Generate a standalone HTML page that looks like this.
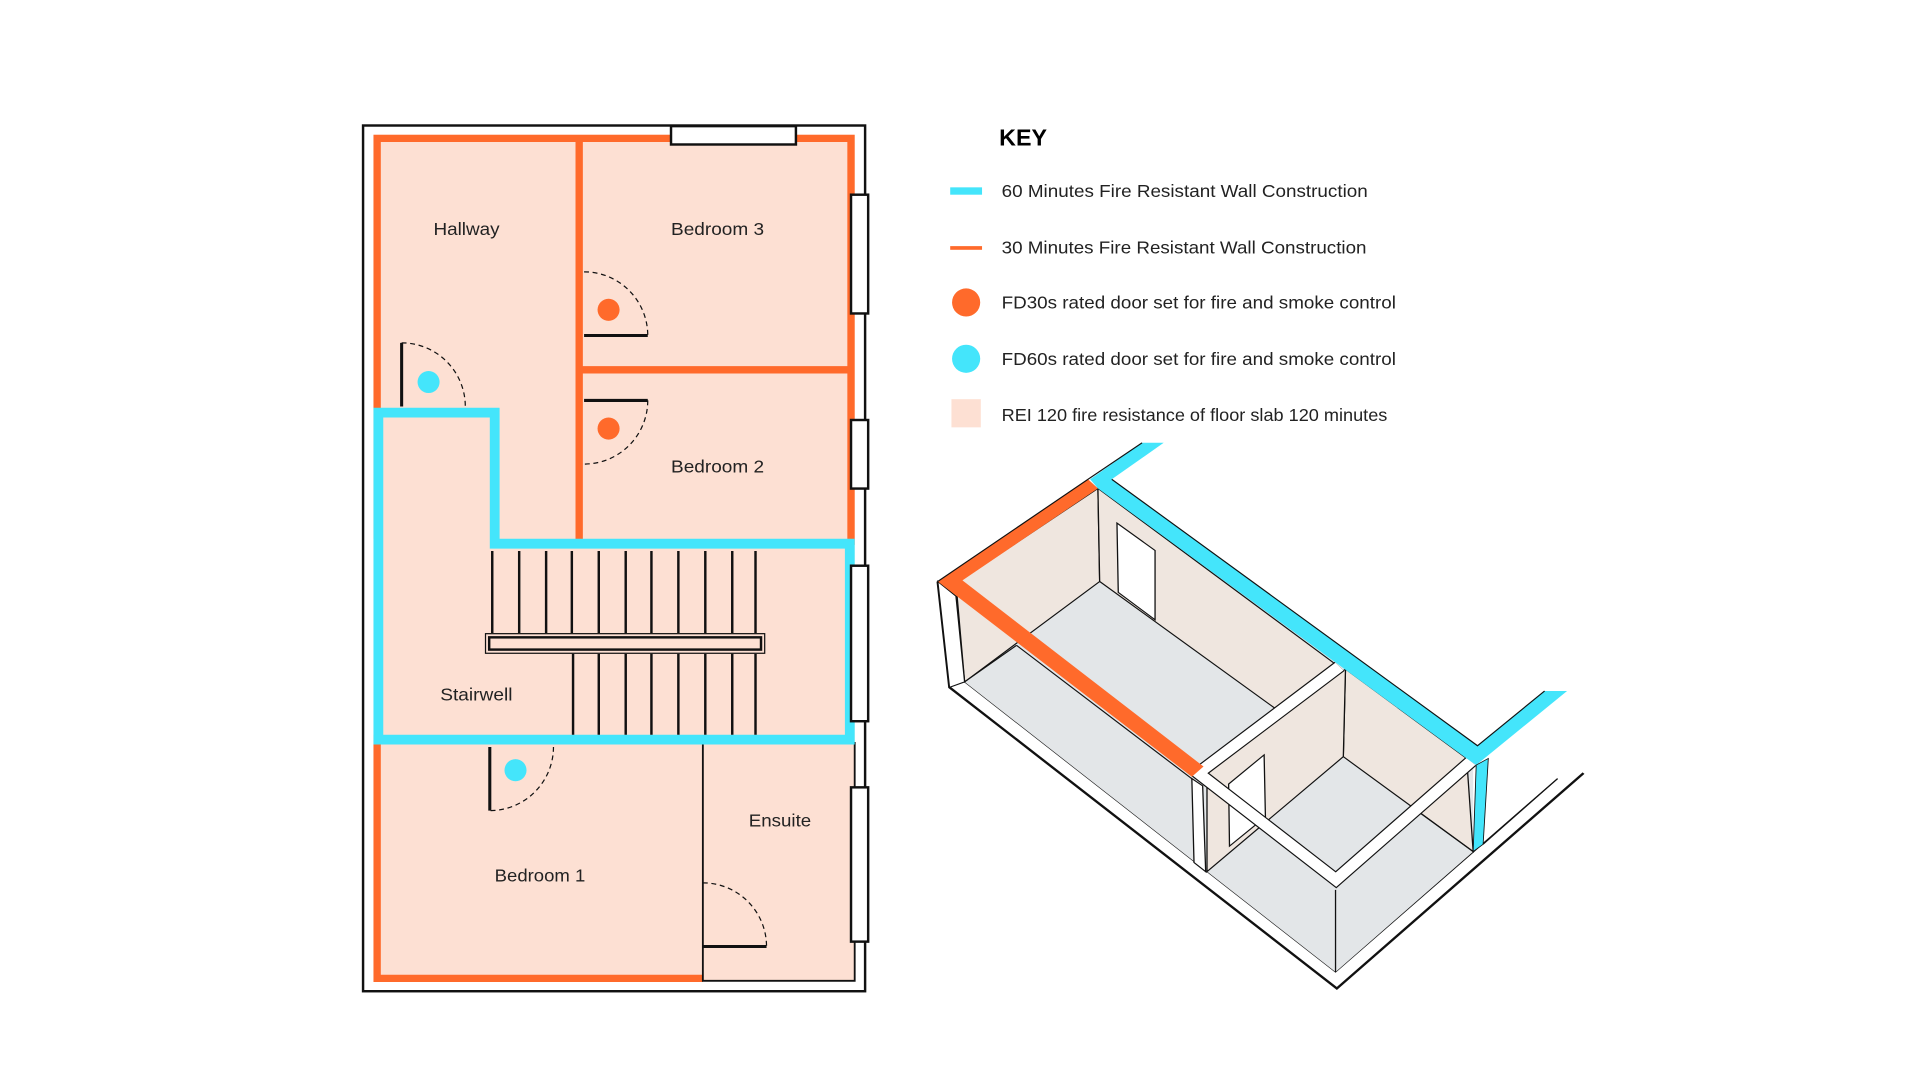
<!DOCTYPE html>
<html><head><meta charset="utf-8"><style>html,body{margin:0;padding:0;background:#fff}svg{display:block}</style></head><body>
<svg width="1920" height="1080" viewBox="0 0 1920 1080" xmlns="http://www.w3.org/2000/svg" font-family="Liberation Sans, sans-serif">
<rect width="1920" height="1080" fill="#fff"/>
<g transform="scale(1.22449)">
  <rect x="296.5" y="102.5" width="410" height="707" fill="none" stroke="#111" stroke-width="2"/>
  <rect x="305" y="110" width="393" height="691" fill="#fde0d3"/>
  <g stroke="#ff6a2b" stroke-width="6" fill="none">
    <polyline points="308,440 308,113 695,113 695,445"/>
    <polyline points="308,600 308,799 574,799"/>
    <line x1="473" y1="113" x2="473" y2="442"/>
    <line x1="473" y1="302" x2="695" y2="302"/>
  </g>
  <polyline points="574,606 574,801 698,801 698,606" fill="none" stroke="#111" stroke-width="1.5"/>
  <polygon points="309,337 404,337 404,444 694,444 694,604 309,604" fill="none" stroke="#44e5fb" stroke-width="8"/>
  <g fill="#fff" stroke="#111" stroke-width="2">
    <rect x="548" y="103" width="102" height="15"/>
    <rect x="695" y="159" width="14" height="97"/>
    <rect x="695" y="343" width="14" height="56"/>
    <rect x="695" y="462" width="14" height="127"/>
    <rect x="695" y="643" width="14" height="126"/>
  </g>
  <g stroke="#111" stroke-width="2">
    <line x1="402" y1="450" x2="402" y2="517"/><line x1="424" y1="450" x2="424" y2="517"/>
    <line x1="446" y1="450" x2="446" y2="517"/><line x1="467" y1="450" x2="467" y2="517"/>
    <line x1="489" y1="450" x2="489" y2="517"/><line x1="511" y1="450" x2="511" y2="517"/>
    <line x1="532" y1="450" x2="532" y2="517"/><line x1="554" y1="450" x2="554" y2="517"/>
    <line x1="576" y1="450" x2="576" y2="517"/><line x1="598" y1="450" x2="598" y2="517"/>
    <line x1="617" y1="450" x2="617" y2="517"/>
    <line x1="468" y1="534" x2="468" y2="600"/><line x1="489" y1="534" x2="489" y2="600"/>
    <line x1="511" y1="534" x2="511" y2="600"/><line x1="532" y1="534" x2="532" y2="600"/>
    <line x1="554" y1="534" x2="554" y2="600"/><line x1="576" y1="534" x2="576" y2="600"/>
    <line x1="598" y1="534" x2="598" y2="600"/><line x1="617" y1="534" x2="617" y2="600"/>
  </g>
  <rect x="396.5" y="517.5" width="228" height="16" fill="#fde0d3" stroke="#111" stroke-width="1"/>
  <rect x="399.5" y="520.5" width="222" height="10" fill="#fde0d3" stroke="#111" stroke-width="2"/>
  <g stroke="#111" stroke-width="2.5" fill="none">
    <line x1="328" y1="280" x2="328" y2="332"/>
    <line x1="477" y1="274" x2="529" y2="274"/>
    <line x1="477" y1="327" x2="529" y2="327"/>
    <line x1="400" y1="610" x2="400" y2="662"/>
    <line x1="574" y1="773" x2="626" y2="773"/>
  </g>
  <g stroke="#111" stroke-width="1" fill="none" stroke-dasharray="4,3">
    <path d="M328,280 A52,52 0 0 1 380,332"/>
    <path d="M477,222 A52,52 0 0 1 529,274"/>
    <path d="M529,327 A52,52 0 0 1 477,379"/>
    <path d="M452,610 A52,52 0 0 1 400,662"/>
    <path d="M574,721 A52,52 0 0 1 626,773"/>
  </g>
  <circle cx="350" cy="312" r="9" fill="#44e5fb"/>
  <circle cx="497" cy="253" r="9" fill="#ff6a2b"/>
  <circle cx="497" cy="350" r="9" fill="#ff6a2b"/>
  <circle cx="421" cy="629" r="9" fill="#44e5fb"/>
  <g font-size="14" fill="#222" text-anchor="middle">
    <text x="381" y="192" textLength="54" lengthAdjust="spacingAndGlyphs">Hallway</text>
    <text x="586" y="192" textLength="76" lengthAdjust="spacingAndGlyphs">Bedroom 3</text>
    <text x="586" y="386" textLength="76" lengthAdjust="spacingAndGlyphs">Bedroom 2</text>
    <text x="389" y="572" textLength="59" lengthAdjust="spacingAndGlyphs">Stairwell</text>
    <text x="441" y="720" textLength="74" lengthAdjust="spacingAndGlyphs">Bedroom 1</text>
    <text x="637" y="675" textLength="51" lengthAdjust="spacingAndGlyphs">Ensuite</text>
  </g>
  <text x="816" y="119" font-size="19" font-weight="bold" fill="#000">KEY</text>
  <rect x="776" y="153" width="26" height="6" fill="#44e5fb"/>
  <rect x="776" y="201" width="26" height="3" fill="#ff6a2b"/>
  <circle cx="789" cy="247" r="11.5" fill="#ff6a2b"/>
  <circle cx="789" cy="293" r="11.5" fill="#44e5fb"/>
  <rect x="777" y="326" width="24" height="23" fill="#fde0d3"/>
  <g font-size="14" fill="#222">
    <text x="818" y="161" textLength="299" lengthAdjust="spacingAndGlyphs">60 Minutes Fire Resistant Wall Construction</text>
    <text x="818" y="207" textLength="298" lengthAdjust="spacingAndGlyphs">30 Minutes Fire Resistant Wall Construction</text>
    <text x="818" y="252" textLength="322" lengthAdjust="spacingAndGlyphs">FD30s rated door set for fire and smoke control</text>
    <text x="818" y="298" textLength="322" lengthAdjust="spacingAndGlyphs">FD60s rated door set for fire and smoke control</text>
    <text x="818" y="344" textLength="315" lengthAdjust="spacingAndGlyphs">REI 120 fire resistance of floor slab 120 minutes</text>
  </g>
</g>
<g transform="translate(930,430) scale(0.4328,0.365)">
  <polyline points="18,415 45,705 940,1530 1510,940" fill="none" stroke="#111" stroke-width="6"/>
  <polyline points="80,690 937,1485 1450,955" fill="none" stroke="#111" stroke-width="3"/>
  <polygon points="45,415 388,160 1255,900 1255,1155 937,1485 80,690" fill="#e3e6e8"/>
  <g fill="#efe6df" stroke="#111" stroke-width="3">
    <polygon points="60,420 388,160 392,415 80,690"/>
    <polygon points="388,160 935,640 800,765 392,415"/>
    <polygon points="960,655 1240,900 1255,1155 955,895"/>
    <polygon points="640,935 960,655 955,895 640,1210"/>
  </g>
  <polygon points="432,255 520,330 520,520 435,445" fill="#fff" stroke="#111" stroke-width="3"/>
  <polygon points="690,970 772,890 775,1060 692,1140" fill="#fff" stroke="#111" stroke-width="3"/>
  <line x1="80" y1="690" x2="200" y2="590" stroke="#111" stroke-width="3"/>
  <line x1="200" y1="590" x2="610" y2="960" stroke="#111" stroke-width="3"/>
  <line x1="1110" y1="1030" x2="1255" y2="1155" stroke="#111" stroke-width="3"/>
  <polyline points="946,648 620,940 938,1232 1250,908" fill="none" stroke="#111" stroke-width="34"/>
  <polyline points="946,648 620,940 938,1232 1250,908" fill="none" stroke="#fff" stroke-width="28"/>
  <polygon points="605,955 630,975 637,1210 610,1185" fill="#fff" stroke="#111" stroke-width="3"/>
  <line x1="937" y1="1260" x2="937" y2="1485" stroke="#111" stroke-width="3"/>
  <polygon points="18,415 60,455 80,690 45,705" fill="#fff" stroke="#111" stroke-width="3"/>
  <polygon points="18,415 365,135 388,160 75,412 632,922 605,950" fill="#ff6a2b"/>
  <polygon points="370,135 490,35 540,35 420,135 1265,865 1420,715 1472,715 1262,918 1240,900 388,160" fill="#44e5fb"/>
  <polygon points="1262,918 1290,900 1278,1135 1255,1155" fill="#44e5fb" stroke="#111" stroke-width="2"/>
  <polyline points="18,415 365,135 490,35" fill="none" stroke="#111" stroke-width="3"/>
  <polyline points="420,135 1265,865 1420,715" fill="none" stroke="#111" stroke-width="3"/>
  <polyline points="1278,1135 1450,955" fill="none" stroke="#111" stroke-width="3"/>
</g>
</svg>
</body></html>
